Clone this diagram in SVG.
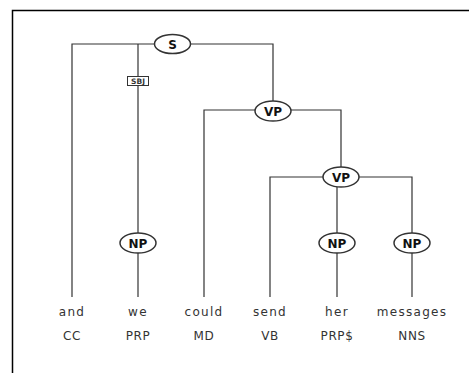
<svg xmlns="http://www.w3.org/2000/svg" width="469" height="373" viewBox="0 0 469 373">
<style>
.edge{stroke:#333;stroke-width:1.2;fill:none}
.node ellipse{fill:#fff;stroke:#333;stroke-width:1.5}
.node text{font-family:"DejaVu Sans",sans-serif;font-weight:bold;font-size:12px;fill:#111;text-anchor:middle}
.word{font-family:"DejaVu Sans",sans-serif;font-size:12px;fill:#333;text-anchor:middle;letter-spacing:1.3px}
.tag{font-family:"DejaVu Sans",sans-serif;font-size:12px;fill:#333;text-anchor:middle;letter-spacing:0.6px}
</style>
<rect x="0" y="0" width="469" height="373" fill="#fff"/>
<rect x="12.5" y="10.5" width="500" height="400" fill="none" stroke="#000" stroke-width="1.5"/>
<g id="connectors">
<path class="edge" d="M72,297 V44 H273 V110"/>
<path class="edge" d="M138,44 V233"/>
<path class="edge" d="M138,253 V297"/>
<path class="edge" d="M204,297 V110 H341 V177"/>
<path class="edge" d="M270,297 V177 H412 V233"/>
<path class="edge" d="M337,177 V233"/>
<path class="edge" d="M337,253 V297"/>
<path class="edge" d="M412,253 V297"/>
</g>
<g id="sbj">
<rect x="127.5" y="76.5" width="21" height="9" fill="#fff" stroke="#333" stroke-width="1"/>
<text x="138" y="84" font-family="DejaVu Sans, sans-serif" font-size="7.5" font-weight="bold" text-anchor="middle" fill="#333">SBJ</text>
</g>
<g id="S" class="node"><ellipse cx="172.5" cy="44" rx="18" ry="9.5"/><text x="172.5" y="48.5">S</text></g>
<g id="VP1" class="node"><ellipse cx="273" cy="111" rx="18" ry="10"/><text x="273" y="115.5">VP</text></g>
<g id="VP2" class="node"><ellipse cx="341" cy="177" rx="18" ry="10"/><text x="341" y="181.5">VP</text></g>
<g id="NP1" class="node"><ellipse cx="138" cy="243" rx="18" ry="10"/><text x="138" y="247.5">NP</text></g>
<g id="NP2" class="node"><ellipse cx="337" cy="243" rx="18" ry="10"/><text x="337" y="247.5">NP</text></g>
<g id="NP3" class="node"><ellipse cx="412" cy="243" rx="18" ry="10"/><text x="412" y="247.5">NP</text></g>
<g id="w1"><text class="word" x="72" y="316">and</text><text class="tag" x="72" y="340">CC</text></g>
<g id="w2"><text class="word" x="138" y="316">we</text><text class="tag" x="138" y="340">PRP</text></g>
<g id="w3"><text class="word" x="204" y="316">could</text><text class="tag" x="204" y="340">MD</text></g>
<g id="w4"><text class="word" x="270" y="316">send</text><text class="tag" x="270" y="340">VB</text></g>
<g id="w5"><text class="word" x="337" y="316">her</text><text class="tag" x="337" y="340">PRP$</text></g>
<g id="w6"><text class="word" x="412" y="316">messages</text><text class="tag" x="412" y="340">NNS</text></g>
</svg>
